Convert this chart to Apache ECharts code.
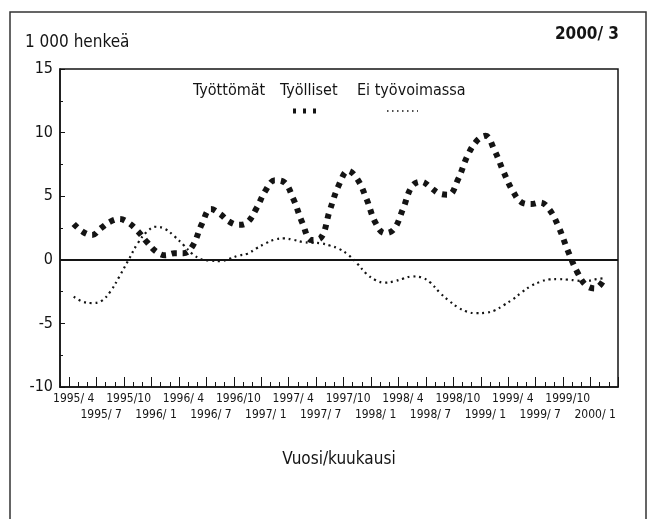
<!DOCTYPE html>
<html>
<head>
<meta charset="utf-8">
<script src="https://cdn.jsdelivr.net/npm/echarts/dist/echarts.min.js"></script>
<style>
  html, body { margin: 0; padding: 0; background: #fff; }
  #chart { width: 648px; height: 519px; }
</style>
</head>
<body>
<div id="chart"></div>
<script>
// kuukaudet 1995/3 - 2000/3
var months = [
  "1995/ 3", "1995/ 4", "1995/ 5", "1995/ 6", "1995/ 7", "1995/ 8", "1995/ 9", "1995/10", "1995/11", "1995/12",
  "1996/ 1", "1996/ 2", "1996/ 3", "1996/ 4", "1996/ 5", "1996/ 6", "1996/ 7", "1996/ 8", "1996/ 9", "1996/10", "1996/11", "1996/12",
  "1997/ 1", "1997/ 2", "1997/ 3", "1997/ 4", "1997/ 5", "1997/ 6", "1997/ 7", "1997/ 8", "1997/ 9", "1997/10", "1997/11", "1997/12",
  "1998/ 1", "1998/ 2", "1998/ 3", "1998/ 4", "1998/ 5", "1998/ 6", "1998/ 7", "1998/ 8", "1998/ 9", "1998/10", "1998/11", "1998/12",
  "1999/ 1", "1999/ 2", "1999/ 3", "1999/ 4", "1999/ 5", "1999/ 6", "1999/ 7", "1999/ 8", "1999/ 9", "1999/10", "1999/11", "1999/12",
  "2000/ 1", "2000/ 2", "2000/ 3"
];

// Työlliset (1 000 henkeä)
var tyolliset = [
  null, 2.82, 2.2, 1.95, 2.5, 3.0, 3.2, 2.9, 2.25, 1.4,
  0.65, 0.35, 0.52, 0.52, 1.1, 2.8, 4.0, 3.6, 3.0, 2.75, 2.95, 4.08,
  5.48, 6.25, 6.1, 4.8, 2.9, 1.55, 1.72, 3.9, 5.9, 7.0, 6.35, 4.8,
  2.9, 2.1, 2.4, 4.0, 5.8, 6.14, 5.7, 5.2, 5.12, 6.3, 8.1, 9.3,
  9.75, 8.6, 6.9, 5.4, 4.5, 4.38, 4.5, 3.95, 2.6, 0.75, -0.9, -2.0,
  -2.25, -1.5, null
];

// Ei työvoimassa (1 000 henkeä)
var eiTyovoimassa = [
  null, -2.9, -3.3, -3.4, -3.25, -2.5, -1.3, 0.0, 1.3, 2.2,
  2.6, 2.42, 1.85, 1.17, 0.45, 0.03, -0.06, -0.1, 0.07, 0.33, 0.48, 0.91,
  1.3, 1.59, 1.68, 1.58, 1.4, 1.34, 1.3, 1.12, 0.86, 0.4, -0.3, -1.1,
  -1.6, -1.8, -1.7, -1.48, -1.31, -1.38, -1.8, -2.57, -3.2, -3.74, -4.08, -4.2,
  -4.17, -3.98, -3.57, -3.1, -2.55, -2.05, -1.73, -1.54, -1.52, -1.56, -1.63, -1.68,
  -1.54, -1.45, null
];

var FONT = "'Liberation Sans Narrow', 'DejaVu Sans Condensed', sans-serif";
var INK = "#141414";

function monthOf(v) {
  return parseInt(v.split("/")[1], 10);
}

var chart = echarts.init(document.getElementById("chart"), null, { renderer: "canvas" });

chart.setOption({
  backgroundColor: "#fff",
  animation: false,
  grid: {
    left: 60, right: 30, top: 69, bottom: 132,
    show: true, borderColor: INK, borderWidth: 1.5
  },
  xAxis: [
    {
      // pienet tikit + ylärivin tekstit
      type: "category",
      position: "bottom",
      data: months,
      boundaryGap: true,
      axisLine: { show: true, onZero: false, lineStyle: { color: INK, width: 1.5 } },
      axisTick: { show: true, inside: true, length: 5, interval: 0, lineStyle: { color: INK, width: 1 } },
      axisLabel: {
        interval: 0, margin: 6, color: INK, fontFamily: FONT, fontSize: 12,
        formatter: function (v) {
          var m = monthOf(v);
          return (m === 4 || m === 10) ? v : "";
        }
      },
      name: "Vuosi/kuukausi",
      nameLocation: "middle",
      nameGap: 64,
      nameTextStyle: { color: INK, fontFamily: FONT, fontSize: 17 },
      splitLine: { show: false }
    },
    {
      // isot tikit + alarivin tekstit
      type: "category",
      position: "bottom",
      data: months,
      boundaryGap: true,
      axisLine: { show: false, onZero: false },
      axisTick: {
        show: true, inside: true, length: 10,
        interval: function (i) { return i % 3 === 1; },
        lineStyle: { color: INK, width: 1 }
      },
      axisLabel: {
        interval: 0, margin: 22, color: INK, fontFamily: FONT, fontSize: 12,
        formatter: function (v) {
          var m = monthOf(v);
          return (m === 1 || m === 7) ? v : "";
        }
      },
      splitLine: { show: false }
    }
  ],
  yAxis: {
    type: "value",
    min: -10, max: 15, interval: 5,
    axisLine: { show: true, onZero: false, lineStyle: { color: INK, width: 1.5 } },
    axisTick: { show: true, inside: true, length: 5, lineStyle: { color: INK } },
    minorTick: { show: true, splitNumber: 2, length: 3, lineStyle: { color: INK } },
    axisLabel: { color: INK, fontFamily: FONT, fontSize: 16, margin: 7 },
    splitLine: { show: false }
  },
  graphic: [
    {
      type: "rect", silent: true,
      shape: { x: 10, y: 12, width: 636, height: 530 },
      style: { fill: null, stroke: "#333", lineWidth: 1.5 }
    },
    {
      type: "text", left: 25, top: 34,
      style: { text: "1 000 henkeä", fill: INK, font: "17px " + FONT }
    },
    {
      type: "text", right: 29, top: 26,
      style: { text: "2000/ 3", fill: INK, font: "bold 17px " + FONT }
    },
    {
      type: "text", left: 193, top: 83,
      style: { text: "Työttömät", fill: INK, font: "16px " + FONT }
    },
    {
      type: "text", left: 280, top: 83,
      style: { text: "Työlliset", fill: INK, font: "16px " + FONT }
    },
    {
      type: "text", left: 357, top: 83,
      style: { text: "Ei työvoimassa", fill: INK, font: "16px " + FONT }
    },
    {
      type: "line", silent: true,
      shape: { x1: 293, y1: 111, x2: 318, y2: 111 },
      style: { stroke: INK, lineWidth: 5, lineDash: [3, 7] }
    },
    {
      type: "line", silent: true,
      shape: { x1: 387, y1: 111, x2: 418, y2: 111 },
      style: { stroke: INK, lineWidth: 1.5, lineDash: [1.5, 3.5] }
    }
  ],
  series: [
    {
      name: "Työlliset",
      type: "line",
      data: tyolliset,
      smooth: 0.4,
      showSymbol: false,
      lineStyle: { color: INK, width: 6, type: [5, 6], cap: "butt" },
      markLine: {
        silent: true,
        symbol: ["none", "none"],
        label: { show: false },
        lineStyle: { color: INK, width: 2, type: "solid" },
        data: [{ yAxis: 0 }]
      }
    },
    {
      name: "Ei työvoimassa",
      type: "line",
      data: eiTyovoimassa,
      smooth: 0.4,
      showSymbol: false,
      lineStyle: { color: INK, width: 2.2, type: [2, 3.8] }
    }
  ]
});
</script>
</body>
</html>
